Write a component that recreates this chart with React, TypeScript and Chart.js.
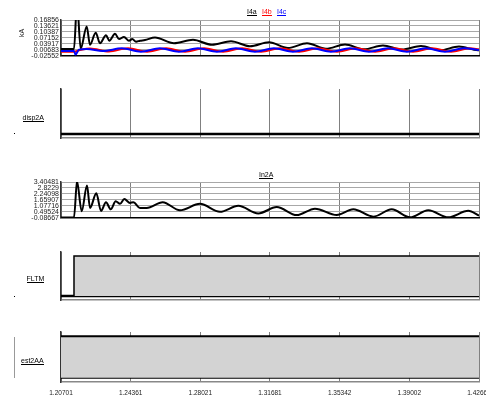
import React, { useEffect, useRef } from "react";
import { Chart, registerables } from "chart.js";
Chart.register(...registerables);

// ---------- data ----------
const X_MIN = 1.20701;
const X_MAX = 1.42663;
const X_TICKS = [1.20701, 1.24361, 1.28021, 1.31681, 1.35342, 1.39002, 1.42663];
const X_TICK_LABELS = ["1.20701", "1.24361", "1.28021", "1.31681", "1.35342", "1.39002", "1.42663"];

const I4_Y_TICKS = [-0.02552, 0.00683, 0.03917, 0.07152, 0.10387, 0.13621, 0.16856];
const I4_Y_LABELS = ["-0.02552", "0.00683", "0.03917", "0.07152", "0.10387", "0.13621", "0.16856"];
const IN2A_Y_TICKS = [-0.08667, 0.49524, 1.07716, 1.65907, 2.24098, 2.8229, 3.40481];
const IN2A_Y_LABELS = ["-0.08667", "0.49524", "1.07716", "1.65907", "2.24098", "2.8229", "3.40481"];

const I4A_T = [1.20701, 1.21384, 1.21542, 1.21736, 1.22051, 1.22225, 1.22524, 1.2275, 1.23065, 1.23239, 1.23538, 1.23748, 1.24011, 1.24274, 1.24447, 1.24642, 1.24852, 1.25114, 1.2564, 1.26638, 1.27636, 1.28635, 1.29633, 1.30631, 1.3163, 1.32628, 1.33626, 1.34624, 1.35623, 1.36621, 1.37619, 1.38617, 1.39616, 1.40614, 1.41612, 1.42611, 1.42663];
const I4A_V = [0.0117, 0.0117, 0.26, 0.0133, 0.1339, 0.034, 0.0997, 0.0428, 0.0858, 0.0563, 0.0946, 0.0651, 0.077, 0.0563, 0.0651, 0.0511, 0.0563, 0.0599, 0.0738, 0.0428, 0.0614, 0.034, 0.0531, 0.0262, 0.048, 0.0169, 0.0428, 0.0133, 0.0355, 0.0097, 0.0304, 0.0081, 0.0273, 0.0045, 0.0252, 0.0045, 0.0047];

const I4B_T = [1.20701, 1.21384, 1.21647, 1.22225, 1.23223, 1.24221, 1.2522, 1.26218, 1.27216, 1.28214, 1.29213, 1.30211, 1.31209, 1.32207, 1.33206, 1.34204, 1.35202, 1.36201, 1.37199, 1.38197, 1.39195, 1.40194, 1.41192, 1.4219, 1.42663];
const I4B_V = [-0.003, -0.003, 0.004, 0.014, -0.002, 0.015, -0.003, 0.015, -0.003, 0.015, -0.003, 0.015, -0.003, 0.015, -0.003, 0.015, -0.003, 0.015, -0.003, 0.015, -0.003, 0.015, -0.003, 0.015, 0.01];

const I4C_T = [1.20701, 1.21384, 1.21463, 1.21647, 1.22051, 1.22908, 1.23906, 1.24904, 1.25903, 1.26901, 1.27899, 1.28897, 1.29896, 1.30894, 1.31892, 1.32891, 1.33889, 1.34887, 1.35885, 1.36884, 1.37882, 1.3888, 1.39878, 1.40877, 1.41875, 1.42663];
const I4C_V = [0.001, 0.001, -0.02, 0.008, 0.012, 0.0, 0.015, -0.003, 0.015, -0.003, 0.015, -0.003, 0.015, -0.003, 0.015, -0.003, 0.015, -0.003, 0.015, -0.003, 0.015, -0.003, 0.015, -0.003, 0.015, 0.006];

const IN2A_T = [1.20701, 1.21384, 1.21542, 1.21789, 1.22067, 1.22225, 1.22556, 1.22803, 1.23065, 1.23312, 1.23575, 1.23801, 1.24027, 1.24326, 1.245, 1.24852, 1.25204, 1.26044, 1.26953, 1.28004, 1.29055, 1.30017, 1.31067, 1.32034, 1.33085, 1.34046, 1.35187, 1.36059, 1.3711, 1.38076, 1.39038, 1.39999, 1.4105, 1.42101, 1.42663];
const IN2A_V = [-0.06, -0.06, 3.45, 0.552, 3.058, 0.871, 2.307, 0.589, 1.434, 0.739, 1.528, 1.274, 1.744, 1.368, 1.434, 0.871, 0.871, 1.434, 0.645, 1.274, 0.495, 1.087, 0.336, 0.962, 0.176, 0.805, 0.176, 0.739, 0.026, 0.739, -0.04, 0.645, -0.04, 0.589, 0.12];

const DISP2A_T = [1.20701, 1.42663];
const DISP2A_V = [0, 0];
const FLTM_T = [1.20701, 1.21384, 1.21384, 1.42663];
const FLTM_V = [0, 0, 1, 1];
const EST2AA_T = [1.20701, 1.42663];
const EST2AA_V = [1, 1];
const ZERO_T = [1.20701, 1.42663];
const ZERO_V = [0, 0];

// ---------- helpers ----------
const FONT = "'Liberation Sans', Arial, sans-serif";
const pts = (t: number[], v: number[]) => t.map((x, i) => ({ x, y: v[i] }));

function xScale(showLabels: boolean, borderColor: string, borderWidth: number) {
  return {
    type: "linear",
    min: X_MIN,
    max: X_MAX,
    afterBuildTicks: (s: any) => {
      s.ticks = X_TICKS.map((v) => ({ value: v }));
    },
    afterFit: (s: any) => {
      s.height = showLabels ? 14 : 0;
    },
    ticks: {
      display: showLabels,
      autoSkip: false,
      maxRotation: 0,
      padding: 7,
      color: "#222",
      font: { family: FONT, size: 6.5 },
      callback: (_v: any, i: number) => X_TICK_LABELS[i],
    },
    grid: { display: true, color: "#808080", lineWidth: 1, drawTicks: false },
    border: { display: true, color: borderColor, width: borderWidth },
  };
}

function yScale(min: number, max: number, ticks: number[] | null, labels: string[] | null) {
  return {
    type: "linear",
    min,
    max,
    afterBuildTicks: (s: any) => {
      if (ticks) s.ticks = ticks.map((v) => ({ value: v }));
    },
    afterFit: (s: any) => {
      s.width = 61;
    },
    ticks: {
      display: !!ticks,
      autoSkip: false,
      padding: 2,
      color: "#222",
      font: { family: FONT, size: 7 },
      callback: (_v: any, i: number) => (labels ? labels[i] : ""),
    },
    grid: { display: !!ticks, color: "#a8a8a8", lineWidth: 1, drawTicks: false },
    border: { display: true, color: "#333", width: 1.5 },
  };
}

function baseOptions(padTop: number, padBottom: number, scales: any) {
  return {
    responsive: false,
    maintainAspectRatio: false,
    animation: false,
    devicePixelRatio: 1,
    events: [],
    layout: { padding: { left: 0, right: 41, top: padTop, bottom: padBottom } },
    plugins: { legend: { display: false }, tooltip: { enabled: false }, title: { display: false } },
    elements: { point: { radius: 0 }, line: { cubicInterpolationMode: "monotone" } },
    scales,
  };
}

function ChartBox({ top, height, config }: { top: number; height: number; config: any }) {
  const ref = useRef<HTMLCanvasElement | null>(null);
  useEffect(() => {
    if (!ref.current) return;
    const chart = new Chart(ref.current, config);
    return () => chart.destroy();
  }, []);
  return (
    <canvas
      ref={ref}
      width={520}
      height={height}
      style={{ position: "absolute", left: 0, top, width: 520, height }}
    />
  );
}

const lineDs = (t: number[], v: number[], color: string, width: number, extra: any = {}) => ({
  data: pts(t, v),
  borderColor: color,
  borderWidth: width,
  pointRadius: 0,
  fill: false,
  ...extra,
});

function Label({ text, left, top, color = "#000" }: { text: string; left: number; top: number; color?: string }) {
  return (
    <span
      style={{
        position: "absolute",
        left,
        top,
        fontFamily: FONT,
        fontSize: "7px",
        lineHeight: "7px",
        color,
        borderBottom: `1.5px solid ${color}`,
        whiteSpace: "nowrap",
      }}
    >
      {text}
    </span>
  );
}

export default function App() {
  const p1 = {
    type: "line",
    data: {
      datasets: [
        lineDs(I4C_T, I4C_V, "#0000ff", 2),
        lineDs(I4B_T, I4B_V, "#ff0000", 2),
        lineDs(I4A_T, I4A_V, "#000000", 2),
      ],
    },
    options: baseOptions(20, 5, {
      x: xScale(false, "#000", 1.5),
      y: yScale(-0.02552, 0.16856, I4_Y_TICKS, I4_Y_LABELS),
    }),
  };
  const p2 = {
    type: "line",
    data: { datasets: [lineDs(DISP2A_T, DISP2A_V, "#000", 2.5, { cubicInterpolationMode: "default", tension: 0 })] },
    options: baseOptions(9, 5, {
      x: xScale(false, "#888", 1.5),
      y: yScale(-0.1, 1.1, null, null),
    }),
  };
  const p3 = {
    type: "line",
    data: { datasets: [lineDs(IN2A_T, IN2A_V, "#000", 2)] },
    options: baseOptions(22, 5, {
      x: xScale(false, "#000", 1.5),
      y: yScale(-0.08667, 3.40481, IN2A_Y_TICKS, IN2A_Y_LABELS),
    }),
  };
  const p4 = {
    type: "line",
    data: {
      datasets: [
        lineDs(FLTM_T, FLTM_V, "#000", 1.5, { fill: "origin", backgroundColor: "#d3d3d3", cubicInterpolationMode: "default", tension: 0 }),
        lineDs(ZERO_T, ZERO_V, "#000", 2.5, { cubicInterpolationMode: "default", tension: 0 }),
      ],
    },
    options: baseOptions(7, 5, {
      x: xScale(false, "#888", 1.5),
      y: yScale(-0.1, 1.1, null, null),
    }),
  };
  const p5 = {
    type: "line",
    data: {
      datasets: [
        lineDs(EST2AA_T, EST2AA_V, "#000", 2, { fill: "origin", backgroundColor: "#d3d3d3", cubicInterpolationMode: "default", tension: 0 }),
        lineDs(ZERO_T, ZERO_V, "#000", 2, { cubicInterpolationMode: "default", tension: 0 }),
      ],
    },
    options: baseOptions(7, 3, {
      x: xScale(true, "#888", 1.5),
      y: yScale(-0.1, 1.1, null, null),
    }),
  };

  return (
    <div style={{ position: "absolute", left: 0, top: 0, width: 486, height: 399, overflow: "hidden", background: "#fff" }}>
      <ChartBox top={0} height={62} config={p1} />
      <ChartBox top={80} height={63} config={p2} />
      <ChartBox top={160} height={64} config={p3} />
      <ChartBox top={245} height={60} config={p4} />
      <ChartBox top={325} height={74} config={p5} />

      <div
        style={{
          position: "absolute",
          left: 21,
          top: 33,
          transform: "translate(-50%, -50%) rotate(-90deg)",
          fontFamily: FONT,
          fontSize: "7px",
          lineHeight: "7px",
          color: "#222",
          whiteSpace: "nowrap",
        }}
      >
        kA
      </div>
      <Label text="I4a" left={247} top={8} color="#000" />
      <Label text="I4b" left={262} top={8} color="#ff0000" />
      <Label text="I4c" left={277} top={8} color="#0000ff" />
      <Label text="disp2A" left={22.5} top={114} />
      <Label text="In2A" left={259} top={171} />
      <Label text="FLTM" left={26.5} top={275} />
      <Label text="est2AA" left={21} top={356.5} />

      <div style={{ position: "absolute", left: 14, top: 133, width: 1, height: 1, background: "#000" }} />
      <div style={{ position: "absolute", left: 14, top: 296, width: 1, height: 1, background: "#000" }} />
      <div style={{ position: "absolute", left: 14, top: 337, width: 1, height: 41, background: "#999" }} />
    </div>
  );
}
